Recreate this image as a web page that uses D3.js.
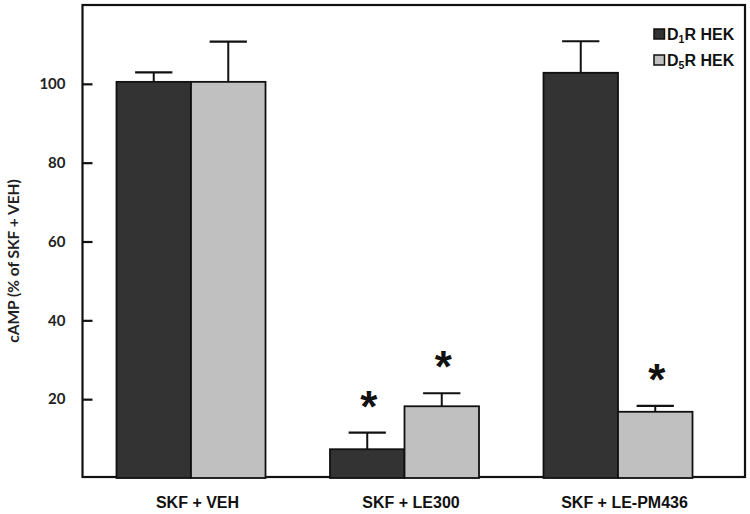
<!DOCTYPE html>
<html><head><meta charset="utf-8">
<script src="https://cdn.jsdelivr.net/npm/d3@7"></script>
<style>body{margin:0;background:#fff}svg{display:block}</style>
</head><body>
<svg id="c" width="750" height="514"></svg>
<script>
const categories = ["SKF + VEH", "SKF + LE300", "SKF + LE-PM436"];
const seriesNames = ["D1R HEK", "D5R HEK"];
const d1Values = [100.5, 7.3, 102.8];
const d1Errors = [2.4, 4.2, 8.0];
const d5Values = [100.5, 18.2, 16.8];
const d5Errors = [10.2, 3.3, 1.5];
const d1Sig = [false, true, false];
const d5Sig = [false, true, true];
const yTicks = [20, 40, 60, 80, 100];

const colors = {"D1R HEK": "#333333", "D5R HEK": "#c0c0c0"};
const svg = d3.select("#c");
const font = "'Liberation Sans', Arial, sans-serif";
const yfont = "Lato, 'Liberation Sans', sans-serif";

const y = d3.scaleLinear().domain([0, 120]).range([478, 5]);
const x0 = d3.scaleBand().domain(categories).range([84.25, 724.75]).paddingInner(0.302).paddingOuter(0.151);
const x1 = d3.scaleBand().domain(seriesNames).range([0, x0.bandwidth()]);

const rows = categories.map((c, i) => ({
  cat: c,
  items: [
    {s: seriesNames[0], v: d1Values[i], e: d1Errors[i], sig: d1Sig[i]},
    {s: seriesNames[1], v: d5Values[i], e: d5Errors[i], sig: d5Sig[i]}
  ]
}));

// frame
svg.append("rect").attr("x", 82.5).attr("y", 5).attr("width", 745 - 82.5).attr("height", 477 - 5)
  .attr("fill", "none").attr("stroke", "#111").attr("stroke-width", 2.2);

const g = svg.selectAll("g.grp").data(rows).join("g").attr("class", "grp")
  .attr("transform", d => `translate(${x0(d.cat)},0)`);

// error bars
g.selectAll("line.err").data(d => d.items).join("line").attr("class", "err")
  .attr("x1", d => x1(d.s) + x1.bandwidth() / 2).attr("x2", d => x1(d.s) + x1.bandwidth() / 2)
  .attr("y1", d => y(d.v)).attr("y2", d => y(d.v + d.e))
  .attr("stroke", "#111").attr("stroke-width", 2);
g.selectAll("line.cap").data(d => d.items).join("line").attr("class", "cap")
  .attr("x1", d => x1(d.s) + x1.bandwidth() * 0.25).attr("x2", d => x1(d.s) + x1.bandwidth() * 0.75)
  .attr("y1", d => y(d.v + d.e)).attr("y2", d => y(d.v + d.e))
  .attr("stroke", "#111").attr("stroke-width", 2.2);

g.selectAll("rect.bar").data(d => d.items).join("rect").attr("class", "bar")
  .attr("x", d => x1(d.s)).attr("width", x1.bandwidth())
  .attr("y", d => y(d.v)).attr("height", d => y(0) - y(d.v))
  .attr("fill", d => colors[d.s]).attr("stroke", "#111").attr("stroke-width", 1.8);

// significance asterisks
g.selectAll("text.sig").data(d => d.items.filter(it => it.sig)).join("text").attr("class", "sig")
  .attr("x", d => x1(d.s) + x1.bandwidth() / 2 + 1.5)
  .attr("y", d => y(d.v + d.e) - 35 + 24)
  .attr("text-anchor", "middle").attr("font-family", font).attr("font-weight", "bold")
  .attr("font-size", 44).attr("fill", "#111").text("*");

// y axis
const yAxis = d3.axisLeft(y).tickValues(yTicks).tickSize(-10).tickPadding(17).tickFormat(d3.format("d"));
const ya = svg.append("g").attr("transform", "translate(82.5,0)").call(yAxis);
ya.select(".domain").remove();
ya.selectAll(".tick line").attr("stroke", "#111").attr("stroke-width", 2.2);
ya.selectAll(".tick text").attr("font-family", yfont).attr("font-weight", "bold")
  .attr("font-size", 15).attr("fill", "#222");

// x labels
const xa = svg.append("g").attr("transform", "translate(6.5,477)")
  .call(d3.axisBottom(x0).tickSize(0).tickPadding(20));
xa.select(".domain").remove();
xa.selectAll(".tick text").attr("font-family", font).attr("font-weight", "bold")
  .attr("font-size", 16).attr("fill", "#111");

// y title
svg.append("text").attr("transform", "translate(19,261) rotate(-90)")
  .attr("text-anchor", "middle").attr("font-family", yfont).attr("font-weight", "bold")
  .attr("font-size", 15.5).attr("fill", "#222").text("cAMP (% of SKF + VEH)");

// legend
const legend = svg.append("g");
const subs = ["1", "5"];
seriesNames.forEach((s, i) => {
  const ly = 29 + i * 26;
  legend.append("rect").attr("x", 654).attr("y", ly).attr("width", 10.5).attr("height", 10)
    .attr("fill", colors[s]).attr("stroke", "#111").attr("stroke-width", 1.5);
  const t = legend.append("text").attr("x", 667).attr("y", ly + 10.5)
    .attr("font-family", font).attr("font-weight", "bold").attr("font-size", 16).attr("fill", "#111");
  t.append("tspan").text("D");
  t.append("tspan").attr("font-size", 10.5).attr("dy", 3).text(subs[i]);
  t.append("tspan").attr("dy", -3).text("R HEK");
});
</script>
</body></html>
